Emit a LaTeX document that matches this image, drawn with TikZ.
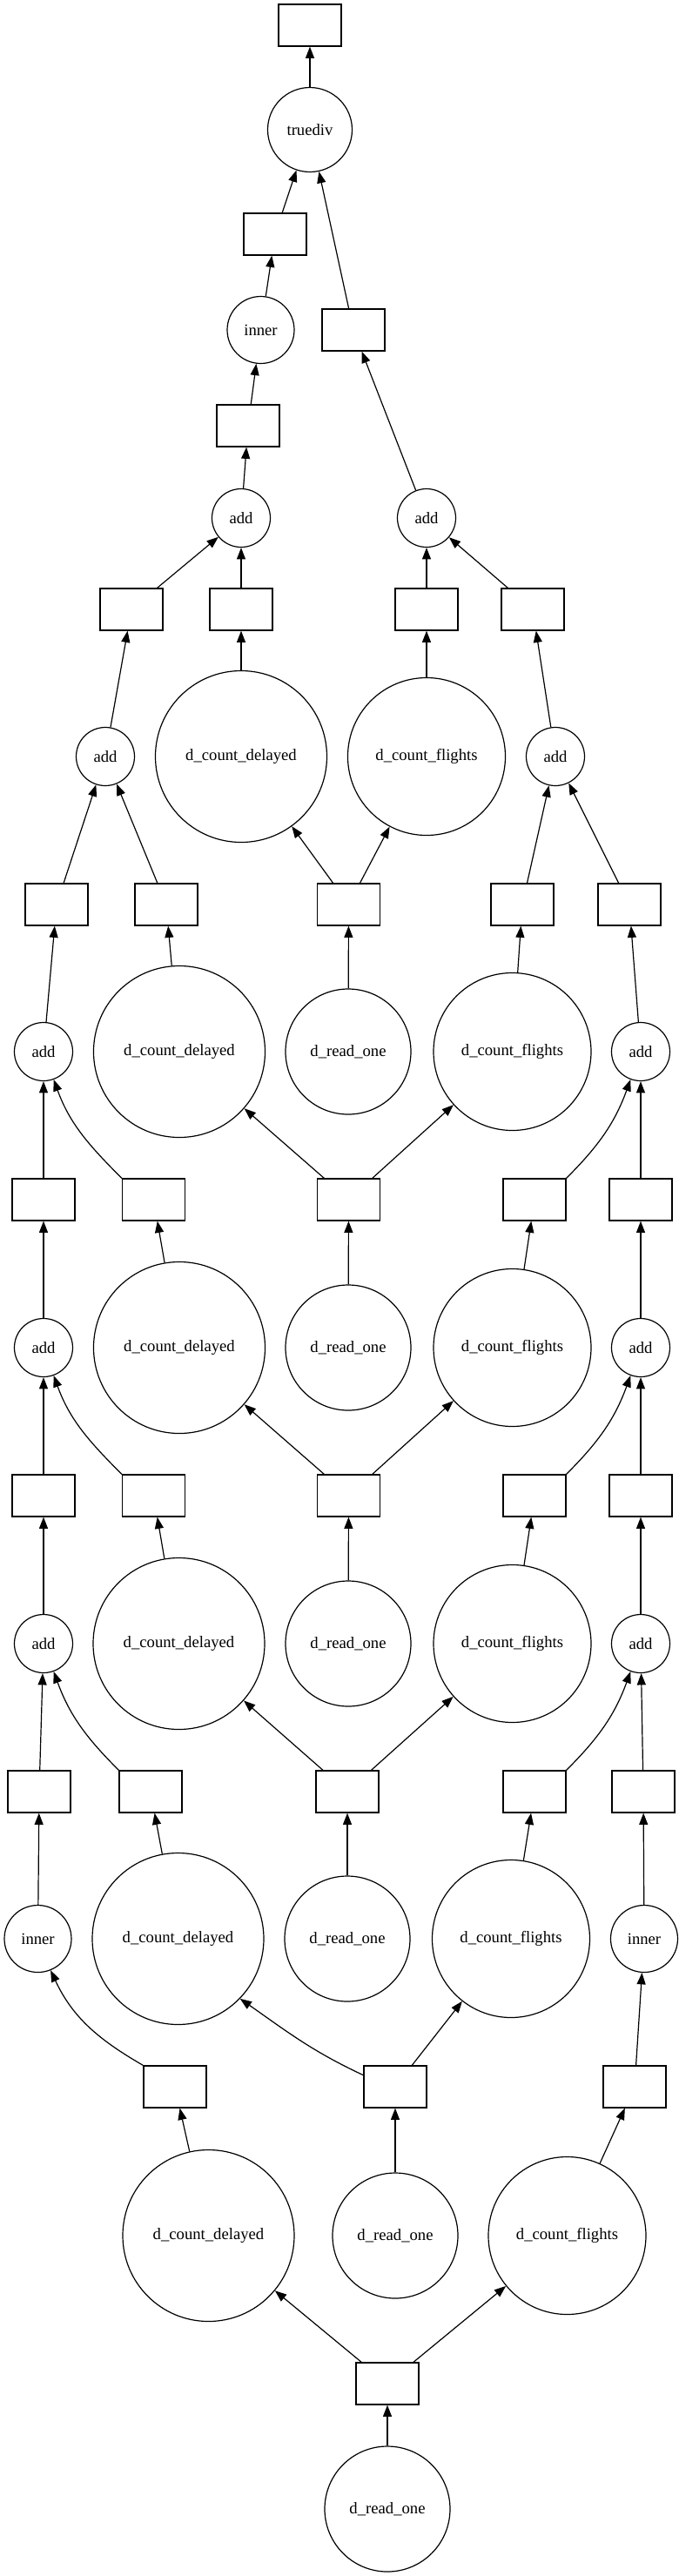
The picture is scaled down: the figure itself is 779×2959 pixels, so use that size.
\documentclass[tikz,border=0pt]{standalone}
\usepackage{fontspec}
\setmainfont{Liberation Serif}
\usetikzlibrary{arrows.meta}

\tikzset{
  task/.style={draw, rectangle, minimum width=54pt, minimum height=36pt, inner sep=0pt},
  fn/.style={draw, circle, inner sep=0pt, minimum size=#1},
  addfn/.style={fn=50.25pt},
  innerfn/.style={fn=57.75pt},
  divfn/.style={fn=72.75pt},
  delayedfn/.style={fn=147.75pt},
  flightsfn/.style={fn=135.75pt},
  readfn/.style={fn=108pt},
  dep/.style={-{Triangle[length=10pt,width=7.5pt]}},
}

\begin{document}
\begin{tikzpicture}[x=0.75pt, y=0.75pt, line width=0.9pt, font=\fontsize{14}{16}\selectfont]
\useasboundingbox (0,0) rectangle (779,-2959);
% top
\node[task] (out) at (356,-29) {};
\node[divfn] (div) at (356,-149) {truediv};
\node[task] (bdivl) at (316,-269) {};
\node[innerfn] (innert) at (299.5,-379) {inner};
\node[task] (bdivr) at (406,-379) {};
\node[task] (bsum) at (285,-489) {};
\node[addfn] (addl) at (277,-595) {add};
\node[addfn] (addr) at (490,-595) {add};
% rank 13
\node[task] (b13a) at (151,-700) {};
\node[task] (b13b) at (277,-700) {};
\node[task] (b13c) at (490,-700) {};
\node[task] (b13d) at (612,-700) {};
% rank 12
\node[addfn] (add12l) at (121,-869) {add};
\node[delayedfn] (dcd12) at (277,-869) {d\_count\_delayed};
\node[flightsfn] (dcf12) at (490,-869) {d\_count\_flights};
\node[addfn] (add12r) at (638,-869) {add};
% rank 11
\node[task] (b11a) at (65,-1039) {};
\node[task] (b11b) at (191,-1039) {};
\node[task] (b11c) at (400.5,-1039) {};
\node[task] (b11d) at (600,-1039) {};
\node[task] (b11e) at (723,-1039) {};
% rank 10
\node[addfn] (add10l) at (50,-1208) {add};
\node[delayedfn] (dcd10) at (206,-1208) {d\_count\_delayed};
\node[readfn] (dro10) at (400,-1208) {d\_read\_one};
\node[flightsfn] (dcf10) at (588.5,-1208) {d\_count\_flights};
\node[addfn] (add10r) at (736,-1208) {add};
% rank 9
\node[task] (b9a) at (50,-1378) {};
\node[task] (b9b) at (176.5,-1378) {};
\node[task] (b9c) at (400.5,-1378) {};
\node[task] (b9d) at (614,-1378) {};
\node[task] (b9e) at (736,-1378) {};
% rank 8
\node[addfn] (add8l) at (50,-1548) {add};
\node[delayedfn] (dcd8) at (206,-1548) {d\_count\_delayed};
\node[readfn] (dro8) at (400,-1548) {d\_read\_one};
\node[flightsfn] (dcf8) at (588.5,-1548) {d\_count\_flights};
\node[addfn] (add8r) at (736,-1548) {add};
% rank 7
\node[task] (b7a) at (50,-1718) {};
\node[task] (b7b) at (176.5,-1718) {};
\node[task] (b7c) at (400.5,-1718) {};
\node[task] (b7d) at (614,-1718) {};
\node[task] (b7e) at (736,-1718) {};
% rank 6
\node[addfn] (add6l) at (50,-1888) {add};
\node[delayedfn] (dcd6) at (205.5,-1888) {d\_count\_delayed};
\node[readfn] (dro6) at (400,-1888) {d\_read\_one};
\node[flightsfn] (dcf6) at (588.5,-1888) {d\_count\_flights};
\node[addfn] (add6r) at (736,-1888) {add};
% rank 5
\node[task] (b5a) at (45,-2058) {};
\node[task] (b5b) at (173,-2058) {};
\node[task] (b5c) at (399,-2058) {};
\node[task] (b5d) at (614,-2058) {};
\node[task] (b5e) at (739,-2058) {};
% rank 4
\node[innerfn] (inner4l) at (43.5,-2227) {inner};
\node[delayedfn] (dcd4) at (204.5,-2227) {d\_count\_delayed};
\node[readfn] (dro4) at (399,-2227) {d\_read\_one};
\node[flightsfn] (dcf4) at (587,-2227) {d\_count\_flights};
\node[innerfn] (inner4r) at (740,-2227) {inner};
% rank 3
\node[task] (b3a) at (201,-2397) {};
\node[task] (b3b) at (454,-2397) {};
\node[task] (b3c) at (729,-2397) {};
% rank 2
\node[delayedfn] (dcd2) at (239.5,-2568) {d\_count\_delayed};
\node[readfn] (dro2) at (454,-2568) {d\_read\_one};
\node[flightsfn] (dcf2) at (651.5,-2568) {d\_count\_flights};
% bottom
\node[task] (b1) at (445,-2738) {};
\node[readfn] (dro0) at (445,-2882) {d\_read\_one};

% edges, bottom up
\draw[dep] (dro0) -- (b1);
\draw[dep] (b1) -- (dcd2);
\draw[dep] (b1) -- (dcf2);
\draw[dep] (dcd2) -- (b3a);
\draw[dep] (dro2) -- (b3b);
\draw[dep] (dcf2) -- (b3c);
\draw[dep] (b3a.north west) to[out=150,in=-65] (inner4l.-68);
\draw[dep] (b3b.160) to[out=155,in=-35] (dcd4.-44);
\draw[dep] (b3b) -- (dcf4);
\draw[dep] (b3c) -- (inner4r);
\draw[dep] (inner4l) -- (b5a);
\draw[dep] (dcd4) -- (b5b);
\draw[dep] (dro4) -- (b5c);
\draw[dep] (dcf4) -- (b5d);
\draw[dep] (inner4r) -- (b5e);
\draw[dep] (b5a) -- (add6l);
\draw[dep] (b5b.north west) to[out=135,in=-70] (add6l.-70);
\draw[dep] (b5c) -- (dcd6);
\draw[dep] (b5c) -- (dcf6);
\draw[dep] (b5d.north east) to[out=45,in=-110] (add6r.-110);
\draw[dep] (b5e) -- (add6r);
\draw[dep] (add6l) -- (b7a);
\draw[dep] (dcd6) -- (b7b);
\draw[dep] (dro6) -- (b7c);
\draw[dep] (dcf6) -- (b7d);
\draw[dep] (add6r) -- (b7e);
\draw[dep] (b7a) -- (add8l);
\draw[dep] (b7b.north west) to[out=135,in=-70] (add8l.-70);
\draw[dep] (b7c) -- (dcd8);
\draw[dep] (b7c) -- (dcf8);
\draw[dep] (b7d.north east) to[out=45,in=-110] (add8r.-110);
\draw[dep] (b7e) -- (add8r);
\draw[dep] (add8l) -- (b9a);
\draw[dep] (dcd8) -- (b9b);
\draw[dep] (dro8) -- (b9c);
\draw[dep] (dcf8) -- (b9d);
\draw[dep] (add8r) -- (b9e);
\draw[dep] (b9a) -- (add10l);
\draw[dep] (b9b.north west) to[out=135,in=-70] (add10l.-70);
\draw[dep] (b9c) -- (dcd10);
\draw[dep] (b9c) -- (dcf10);
\draw[dep] (b9d.north east) to[out=45,in=-110] (add10r.-110);
\draw[dep] (b9e) -- (add10r);
\draw[dep] (add10l) -- (b11a);
\draw[dep] (dcd10) -- (b11b);
\draw[dep] (dro10) -- (b11c);
\draw[dep] (dcf10) -- (b11d);
\draw[dep] (add10r) -- (b11e);
\draw[dep] (b11a) -- (add12l);
\draw[dep] (b11b) -- (add12l);
\draw[dep] (b11c) -- (dcd12);
\draw[dep] (b11c) -- (dcf12);
\draw[dep] (b11d) -- (add12r);
\draw[dep] (b11e) -- (add12r);
\draw[dep] (add12l) -- (b13a);
\draw[dep] (dcd12) -- (b13b);
\draw[dep] (dcf12) -- (b13c);
\draw[dep] (add12r) -- (b13d);
\draw[dep] (b13a) -- (addl);
\draw[dep] (b13b) -- (addl);
\draw[dep] (b13c) -- (addr);
\draw[dep] (b13d) -- (addr);
\draw[dep] (addl) -- (bsum);
\draw[dep] (addr) -- (bdivr);
\draw[dep] (bsum) -- (innert);
\draw[dep] (innert) -- (bdivl);
\draw[dep] (bdivl) -- (div);
\draw[dep] (bdivr) -- (div);
\draw[dep] (div) -- (out);
\end{tikzpicture}
\end{document}
